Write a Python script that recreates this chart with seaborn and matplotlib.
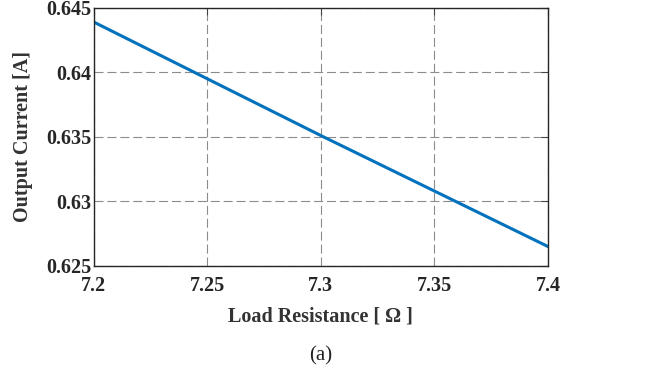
import numpy as np
import pandas as pd
import seaborn as sns
import matplotlib.pyplot as plt

# values
load_resistance = [7.20, 7.25, 7.30, 7.35, 7.40]
output_current = [0.6439, 0.6395, 0.6351, 0.6308, 0.6265]
x_ticks = [7.2, 7.25, 7.3, 7.35, 7.4]
x_tick_labels = ["7.2", "7.25", "7.3", "7.35", "7.4"]
y_ticks = [0.625, 0.63, 0.635, 0.64, 0.645]
y_tick_labels = ["0.625", "0.63", "0.635", "0.64", "0.645"]

sns.set_theme(style="white")
plt.rcParams['font.family'] = ['Liberation Serif', 'DejaVu Serif']
plt.rcParams['lines.scale_dashes'] = False

df = pd.DataFrame({"R": load_resistance, "I": output_current})

fig = plt.figure(figsize=(6.7, 3.74), dpi=100)
ax = fig.add_axes([0.140, 0.289, 0.678, 0.690])

sns.lineplot(data=df, x="R", y="I", ax=ax, color="#0072BD", linewidth=2.2)

ax.set_xlim(7.2, 7.4)
ax.set_ylim(0.625, 0.645)
ax.set_xticks(x_ticks)
ax.set_xticklabels(x_tick_labels, fontsize=14.5, fontweight="bold", color="#262626")
ax.set_yticks(y_ticks)
ax.set_yticklabels(y_tick_labels, fontsize=14.5, fontweight="bold", color="#262626")
ax.tick_params(direction="in", length=5, width=0.8, color="#444444",
               top=True, right=True)
ax.tick_params(axis="x", pad=7)
ax.tick_params(axis="y", pad=2)

ax.grid(True, linestyle=(0, (6.5, 2.8)), color="#8c8c8c", linewidth=0.8)
for s in ax.spines.values():
    s.set_color("#262626")
    s.set_linewidth(1.0)

ax.set_xlabel("Load Resistance [ Ω ]", fontsize=14.5, fontweight="bold",
              color="#333333", labelpad=8)
ax.set_ylabel("Output Current [A]", fontsize=14.5, fontweight="bold",
              color="#333333", labelpad=9)

fig.text(0.478, 0.048, "(a)", fontsize=15, ha="center", va="center", color="#222222")

fig.savefig("out.png", dpi=100)
